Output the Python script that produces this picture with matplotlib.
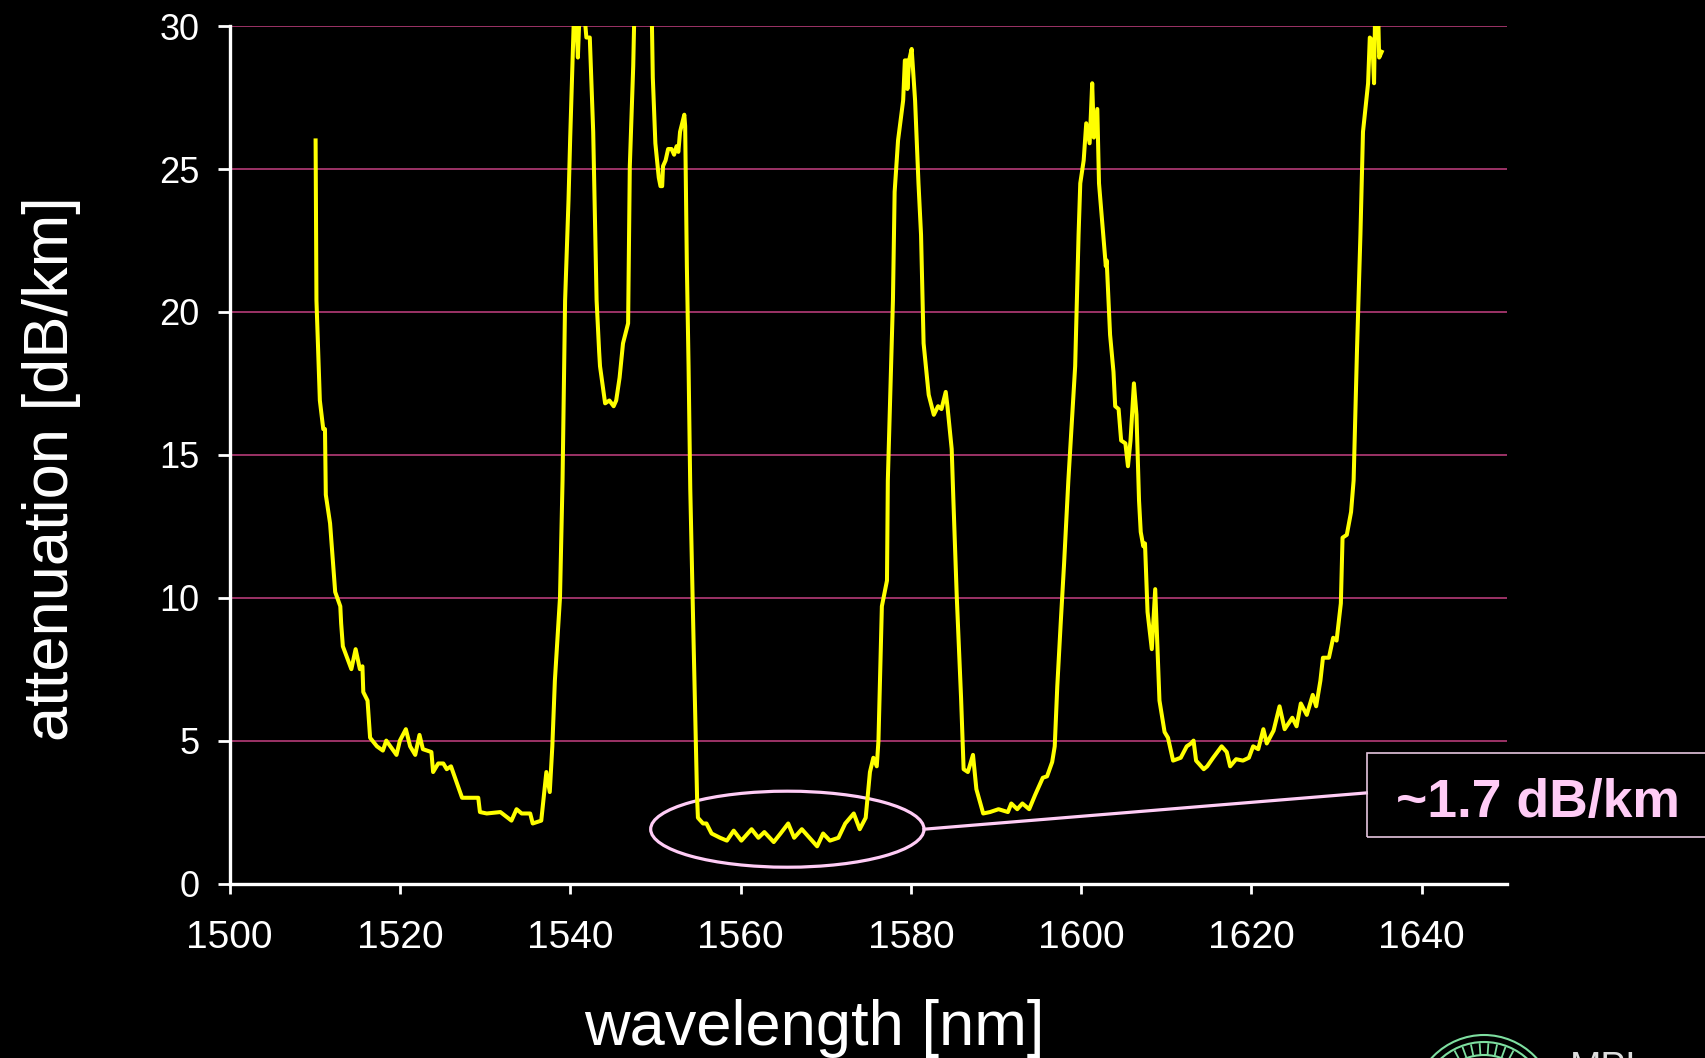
import numpy as np
import matplotlib
matplotlib.use('Agg')
from matplotlib import pyplot as plt
from matplotlib.patches import Ellipse, Rectangle, Circle

plt.rcParams['font.family'] = ['Liberation Sans', 'DejaVu Sans']

wavelength = [
    1510.1, 1510.2, 1510.6, 1511.0, 1511.2, 1511.3, 1511.8, 1512.4, 1513.0, 1513.1,
    1513.3, 1514.3, 1514.8, 1515.3, 1515.6, 1515.7, 1516.2, 1516.5, 1517.3, 1518.0,
    1518.4, 1519.6, 1520.0, 1520.7, 1521.2, 1521.8, 1522.3, 1522.7, 1523.7, 1523.9,
    1524.5, 1525.1, 1525.5, 1526.0, 1527.3, 1528.6, 1529.2, 1529.4, 1530.2, 1531.8,
    1533.1, 1533.7, 1534.3, 1535.3, 1535.6, 1536.6, 1537.2, 1537.6, 1537.9, 1538.2,
    1538.8, 1539.1, 1539.4, 1539.8, 1540.0, 1540.4, 1540.6, 1540.9, 1541.1, 1541.5,
    1541.9, 1542.3, 1542.7, 1543.1, 1543.4, 1543.5, 1544.1, 1544.6, 1545.1, 1545.4,
    1545.8, 1546.2, 1546.8, 1547.0, 1547.4, 1547.5, 1548.0, 1549.2, 1549.6, 1549.7,
    1550.0, 1550.4, 1550.6, 1550.8, 1550.9, 1551.2, 1551.5, 1551.9, 1552.2, 1552.5,
    1552.7, 1552.9, 1553.4, 1553.5, 1553.7, 1553.9, 1554.1, 1554.5, 1554.9, 1555.0,
    1555.6, 1556.0, 1556.6, 1557.6, 1558.4, 1559.2, 1560.1, 1561.3, 1562.1, 1562.8,
    1563.9, 1564.7, 1565.6, 1566.3, 1567.2, 1568.1, 1569.0, 1569.7, 1570.5, 1571.5,
    1572.3, 1573.3, 1574.0, 1574.7, 1575.2, 1575.6, 1576.0, 1576.2, 1576.6, 1577.2,
    1577.3, 1577.9, 1578.1, 1578.5, 1579.1, 1579.3, 1579.5, 1579.6, 1579.8, 1580.1,
    1580.5, 1580.9, 1581.2, 1581.5, 1582.1, 1582.7, 1583.2, 1583.6, 1584.1, 1584.3,
    1584.8, 1585.0, 1585.4, 1585.9, 1586.2, 1586.7, 1587.0, 1587.3, 1587.7, 1588.5,
    1589.3, 1590.3, 1591.4, 1591.8, 1592.5, 1593.1, 1593.9, 1594.6, 1595.5, 1596.0,
    1596.6, 1596.9, 1597.2, 1597.6, 1598.0, 1598.5, 1599.3, 1599.7, 1599.9, 1600.3,
    1600.6, 1601.0, 1601.3, 1601.5, 1601.9, 1602.1, 1602.6, 1602.9, 1603.0, 1603.4,
    1603.8, 1604.0, 1604.4, 1604.7, 1605.2, 1605.5, 1605.8, 1606.2, 1606.5, 1606.8,
    1607.0, 1607.3, 1607.5, 1607.8, 1608.3, 1608.7, 1609.2, 1609.8, 1610.2, 1610.8,
    1611.7, 1612.4, 1612.9, 1613.2, 1613.5, 1614.4, 1614.8, 1615.5, 1616.5, 1617.1,
    1617.5, 1618.2, 1619.0, 1619.7, 1620.2, 1620.8, 1621.4, 1621.8, 1622.6, 1623.3,
    1623.9, 1624.8, 1625.3, 1625.8, 1626.5, 1627.2, 1627.6, 1628.1, 1628.4, 1629.1,
    1629.6, 1630.0, 1630.5, 1630.7, 1631.2, 1631.7, 1632.0, 1632.4, 1632.8, 1633.1,
    1633.7, 1633.9, 1634.2, 1634.4, 1634.5, 1634.8, 1635.0, 1635.3,
]
attenuation = [
    26.0, 20.4, 16.9, 15.9, 15.9, 13.6, 12.6, 10.2, 9.7, 9.1,
    8.3, 7.5, 8.2, 7.5, 7.6, 6.7, 6.4, 5.1, 4.8, 4.65,
    5.0, 4.5, 5.0, 5.4, 4.8, 4.5, 5.2, 4.7, 4.6, 3.9,
    4.2, 4.2, 4.0, 4.1, 3.0, 3.0, 3.0, 2.5, 2.45, 2.5,
    2.2, 2.6, 2.45, 2.45, 2.1, 2.2, 3.9, 3.2, 4.8, 7.1,
    10.0, 14.1, 20.4, 23.9, 26.1, 30.0, 31.0, 28.9, 30.5, 31.0,
    29.6, 29.6, 26.3, 20.4, 18.6, 18.1, 16.8, 16.9, 16.7, 16.9,
    17.7, 18.9, 19.6, 25.1, 28.6, 30.0, 33.0, 33.0, 30.0, 28.2,
    25.9, 24.7, 24.4, 24.4, 25.1, 25.3, 25.7, 25.7, 25.5, 25.8,
    25.6, 26.3, 26.9, 26.5, 21.6, 18.1, 13.8, 8.3, 3.0, 2.3,
    2.1, 2.1, 1.75, 1.6, 1.5, 1.85, 1.5, 1.9, 1.6, 1.8,
    1.45, 1.75, 2.1, 1.6, 1.9, 1.6, 1.3, 1.75, 1.5, 1.6,
    2.1, 2.45, 1.9, 2.3, 3.9, 4.4, 4.1, 5.0, 9.7, 10.6,
    14.1, 20.4, 24.2, 26.0, 27.4, 28.8, 28.8, 27.8, 28.8, 29.2,
    27.4, 24.5, 22.7, 18.9, 17.1, 16.4, 16.7, 16.6, 17.2, 16.7,
    15.2, 13.4, 10.0, 6.5, 4.0, 3.9, 4.2, 4.5, 3.3, 2.45,
    2.5, 2.6, 2.5, 2.8, 2.6, 2.8, 2.6, 3.1, 3.7, 3.75,
    4.25, 4.8, 6.9, 9.1, 11.2, 14.1, 18.1, 22.7, 24.5, 25.3,
    26.6, 25.9, 28.0, 26.1, 27.1, 24.5, 22.7, 21.6, 21.8, 19.2,
    17.9, 16.7, 16.6, 15.5, 15.4, 14.6, 15.5, 17.5, 16.4, 13.4,
    12.3, 11.8, 11.9, 9.5, 8.2, 10.3, 6.4, 5.3, 5.1, 4.3,
    4.4, 4.8, 4.9, 5.0, 4.3, 4.0, 4.1, 4.4, 4.8, 4.6,
    4.1, 4.35, 4.3, 4.4, 4.8, 4.7, 5.4, 4.9, 5.35, 6.2,
    5.4, 5.8, 5.5, 6.3, 5.9, 6.6, 6.2, 7.1, 7.9, 7.9,
    8.6, 8.5, 9.8, 12.1, 12.2, 13.0, 14.1, 18.7, 22.7, 26.3,
    28.0, 29.6, 29.5, 28.0, 30.0, 31.5, 28.9, 29.1,
]

x_ticks = [1500, 1520, 1540, 1560, 1580, 1600, 1620, 1640]
y_ticks = [0, 5, 10, 15, 20, 25, 30]
x_label = 'wavelength [nm]'
y_label = 'attenuation [dB/km]'
note_text = '~1.7 dB/km'
logo_text = 'MPL'

pink = '#FFCCF6'
grid_color = '#9C3366'

fig = plt.figure(figsize=(17.06, 10.58), dpi=100, facecolor='black')
ax = fig.add_axes([0.13458, 0.16493, 0.74871, 0.81040])
ax.set_facecolor('black')

ax.plot(wavelength, attenuation, color='#FFFF00', linewidth=2.9,
        solid_joinstyle='round', zorder=3)

# ellipse around the low-loss window and the pointer to the label box
ax.add_patch(Ellipse((1565.5, 1.9), 32.1, 2.66, fill=False, edgecolor=pink,
                     linewidth=2.3, zorder=2))
ax.plot([1581.55, 1633.5], [1.9, 3.17], color=pink, linewidth=2.3, zorder=2)

ax.set_xlim(1500, 1650)
ax.set_ylim(0, 30)
ax.set_xticks(x_ticks)
ax.set_yticks(y_ticks)
ax.yaxis.grid(True, color=grid_color, linewidth=1.4)
ax.xaxis.grid(False)
ax.set_axisbelow(True)

for side in ['top', 'right']:
    ax.spines[side].set_visible(False)
for side in ['left', 'bottom']:
    ax.spines[side].set_color('white')
    ax.spines[side].set_linewidth(2.4)

ax.tick_params(axis='y', direction='out', length=8.6, width=2, colors='white',
               labelsize=26, pad=13)
ax.tick_params(axis='x', direction='out', length=7.2, width=2, colors='white',
               labelsize=28, pad=19)

fig.text(0.4774, 0.0123, x_label, ha='center', va='baseline', fontsize=45.5, color='white')
fig.text(0.0299, 0.5567, y_label, ha='center', va='center', rotation=90,
         fontsize=45.5, color='white')

# label box running off the right edge of the slide
fig.add_artist(Rectangle((0.8011, 0.2086), 0.3, 0.08, fill=False, edgecolor='#E6C6DF',
                         linewidth=1.2, transform=fig.transFigure))
fig.text(0.9018, 0.2281, note_text, ha='center', va='baseline', fontsize=38.5,
         fontweight='bold', color=pink)

# institute logo, cut off at the bottom of the slide
ov = fig.add_axes([0, 0, 1, 1])
ov.set_xlim(0, 1706)
ov.set_ylim(1058, 0)
ov.axis('off')
ov.patch.set_alpha(0)
green = '#7EDFA0'
for r in [71, 64, 51]:
    ov.add_patch(Circle((1484, 1106), r, fill=False, edgecolor=green, linewidth=1.5))
for ang in np.arange(62, 120, 8):
    a = np.radians(ang)
    ov.plot([1484 + 52 * np.cos(a), 1484 + 62 * np.cos(a)],
            [1106 - 52 * np.sin(a), 1106 - 62 * np.sin(a)], color=green, linewidth=1.3)
ov.text(1570, 1079, logo_text, ha='left', va='baseline', fontsize=27, color='#DDDDDD')

fig.savefig('out.png', dpi=100, facecolor='black')
